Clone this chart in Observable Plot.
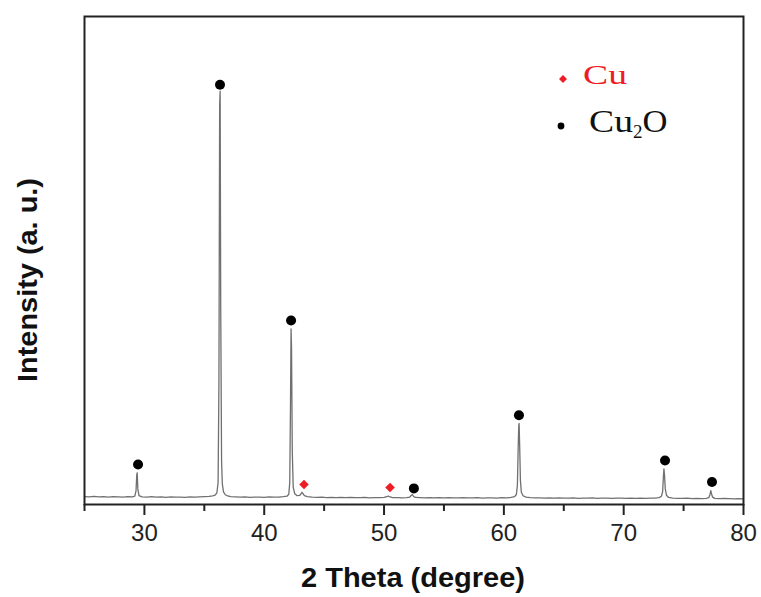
<!DOCTYPE html>
<html>
<head>
<meta charset="utf-8">
<script src="https://cdn.jsdelivr.net/npm/d3@7"></script>
<script src="https://cdn.jsdelivr.net/npm/@observablehq/plot@0.6"></script>
<style>
  html, body { margin: 0; padding: 0; background: #fff; }
  #chart svg { display: block; }
</style>
</head>
<body>
<div id="chart"></div>
<script>
// XRD pattern: [2θ (degree), intensity (a.u.)]
const xrd = [
  [25.0,16],[25.4,15.5],[25.8,16.5],[26.2,15.5],[26.6,16],[27.0,15],[27.4,16],[27.8,15.5],[28.2,15],[28.6,16],[29.0,15.5],
  [29.2,17],[29.3,28],[29.36,60],[29.4,65],[29.45,32],[29.55,18],[29.8,15.5],
  [30.2,15],[30.6,16],[31.0,15],[31.4,15.5],[31.8,14.5],[32.2,15.5],[32.6,15],[33.0,15],[33.4,14.5],[33.8,15.5],[34.2,15],[34.6,15.5],[35.0,16],
  [35.4,16.5],[35.7,17.5],[35.9,19],[36.05,24],[36.15,45],[36.22,250],[36.28,820],[36.32,847],[36.37,400],[36.44,90],[36.5,43],[36.6,26],[36.75,20],[36.95,17.5],
  [37.2,16],[37.6,15.5],[38.0,15],[38.4,15.5],[38.8,14.5],[39.2,15],[39.6,15],[40.0,14.5],[40.4,15.5],[40.8,15],[41.2,15],[41.6,16],[41.9,17],
  [42.05,21],[42.13,45],[42.19,200],[42.24,360],[42.28,320],[42.34,110],[42.42,35],[42.55,22],[42.75,18],[42.95,18.5],[43.08,22],[43.15,25],[43.22,23],[43.35,18],[43.6,16],
  [44.0,15],[44.4,14.5],[44.8,15],[45.2,14],[45.6,14.5],[46.0,14],[46.4,14.5],[46.8,14],[47.2,14.5],[47.6,14],[48.0,14],[48.4,14.5],[48.8,13.5],[49.2,14],[49.6,14],[50.0,14.5],
  [50.25,16],[50.35,17.5],[50.45,16],[50.7,14],[51.1,14],[51.5,13.5],[51.9,14],[52.15,15],[52.28,19],[52.36,20.5],[52.45,17],[52.6,14.5],
  [53.0,14],[53.4,13.5],[53.8,14],[54.2,13.5],[54.6,14],[55.0,13.5],[55.4,14],[55.8,13.5],[56.2,13.5],[56.6,14],[57.0,13.5],[57.4,13.5],[57.8,14],[58.2,13],[58.6,13.5],[59.0,13.5],[59.4,13],[59.8,14],[60.2,13.5],[60.6,14.5],
  [60.9,16],[61.05,21],[61.13,40],[61.19,110],[61.24,160],[61.27,166],[61.32,120],[61.38,50],[61.46,25],[61.6,18],[61.85,15],
  [62.2,14],[62.6,13.5],[63.0,13.5],[63.4,13],[63.8,13.5],[64.2,13],[64.6,13.5],[65.0,13],[65.4,13],[65.8,13.5],[66.2,12.5],[66.6,13],[67.0,13],[67.4,13.5],[67.8,12.5],[68.2,13],[68.6,13],[69.0,12.5],[69.4,13],[69.8,13],[70.2,12.5],[70.6,13],[71.0,12.5],[71.4,13],[71.8,12.5],[72.2,13],[72.6,13],
  [72.95,14],[73.15,17],[73.25,26],[73.31,55],[73.36,73],[73.41,60],[73.47,32],[73.57,19],[73.75,14.5],
  [74.1,13],[74.5,12.5],[74.9,12.5],[75.3,13],[75.7,12],[76.1,12.5],[76.5,12],[76.9,12.5],
  [77.1,14],[77.2,20],[77.27,28.5],[77.33,22],[77.42,15],[77.6,12.5],
  [78.0,12],[78.4,12.5],[78.8,12],[79.2,11.5],[79.6,12],[80.0,11.5]
];

// Phase markers
const cu2oX = [29.47, 36.31, 42.24, 52.49, 61.26, 73.45, 77.37];
const cu2oY = [82, 860, 377, 33, 183, 90, 46];
const cuX = [43.32, 50.5];
const cuY = [41, 35];

const majorTicks = [30, 40, 50, 60, 70, 80];
const minorTicks = [25, 35, 45, 55, 65, 75];

const legendLabels = ["Cu", "Cu2O"];
const xTitle = "2 Theta (degree)";
const yTitle = "Intensity (a. u.)";

const cu2o = cu2oX.map((x, i) => ({x, y: cu2oY[i]}));
const cu = cuX.map((x, i) => ({x, y: cuY[i]}));

const RED = "#ee1c24";

const plot = Plot.plot({
  width: 761,
  height: 597,
  marginLeft: 84,
  marginRight: 18,
  marginTop: 16,
  marginBottom: 93,
  style: {background: "white", fontFamily: "'Liberation Sans', Arial, sans-serif"},
  x: {domain: [25, 80], axis: null},
  y: {domain: [0, 1000], axis: null},
  marks: [
    Plot.line(xrd, {x: d => d[0], y: d => d[1], stroke: "#707070", strokeWidth: 1.3}),
    Plot.dot(cu2o, {x: "x", y: "y", r: 5, fill: "black", stroke: "none"}),
    Plot.dot(cu, {x: "x", y: "y", r: 4.3, symbol: "diamond2", fill: RED, stroke: "none"}),
    Plot.axisX({ticks: minorTicks, tickSize: 7, text: null, stroke: "#222", strokeWidth: 2, label: null}),
    Plot.axisX({ticks: majorTicks, tickSize: 11, tickPadding: 8, fontSize: 24, stroke: "#222", strokeWidth: 2, fill: "#222", label: null}),
    Plot.frame({stroke: "#222", strokeWidth: 2})
  ]
});

document.getElementById("chart").appendChild(plot);

const svg = d3.select(plot);
// axis titles
svg.append("text")
  .attr("x", 413).attr("y", 587)
  .attr("text-anchor", "middle")
  .attr("font-family", "'Liberation Sans', Arial, sans-serif")
  .attr("font-weight", "bold")
  .attr("font-size", 28)
  .attr("textLength", 224)
  .attr("lengthAdjust", "spacingAndGlyphs")
  .attr("fill", "#111")
  .text(xTitle);
svg.append("text")
  .attr("transform", "translate(37,280) rotate(-90)")
  .attr("text-anchor", "middle")
  .attr("font-family", "'Liberation Sans', Arial, sans-serif")
  .attr("font-weight", "bold")
  .attr("font-size", 28)
  .attr("textLength", 204)
  .attr("lengthAdjust", "spacingAndGlyphs")
  .attr("fill", "#111")
  .text(yTitle);

// legend
const lg = svg.append("g")
  .attr("font-family", "'Liberation Serif', 'Times New Roman', serif")
  .attr("text-anchor", "start");
lg.append("path").attr("d", d3.symbol(d3.symbolDiamond2, 40)()).attr("transform", "translate(563,79)").attr("fill", RED);
lg.append("text").attr("x", 583).attr("y", 84).attr("font-size", 28)
  .attr("textLength", 44).attr("lengthAdjust", "spacingAndGlyphs")
  .attr("fill", RED).text(legendLabels[0]);
lg.append("circle").attr("cx", 561).attr("cy", 126).attr("r", 3.4).attr("fill", "black");
const t2 = lg.append("text").attr("x", 589).attr("y", 132).attr("font-size", 31).attr("fill", "#111");
t2.append("tspan").attr("textLength", 44).attr("lengthAdjust", "spacingAndGlyphs").text(legendLabels[1].slice(0, 2));
t2.append("tspan").attr("font-size", 19).attr("dy", 6).text(legendLabels[1].slice(2, 3));
t2.append("tspan").attr("dy", -6).attr("textLength", 25).attr("lengthAdjust", "spacingAndGlyphs").text(legendLabels[1].slice(3));
</script>
</body>
</html>
